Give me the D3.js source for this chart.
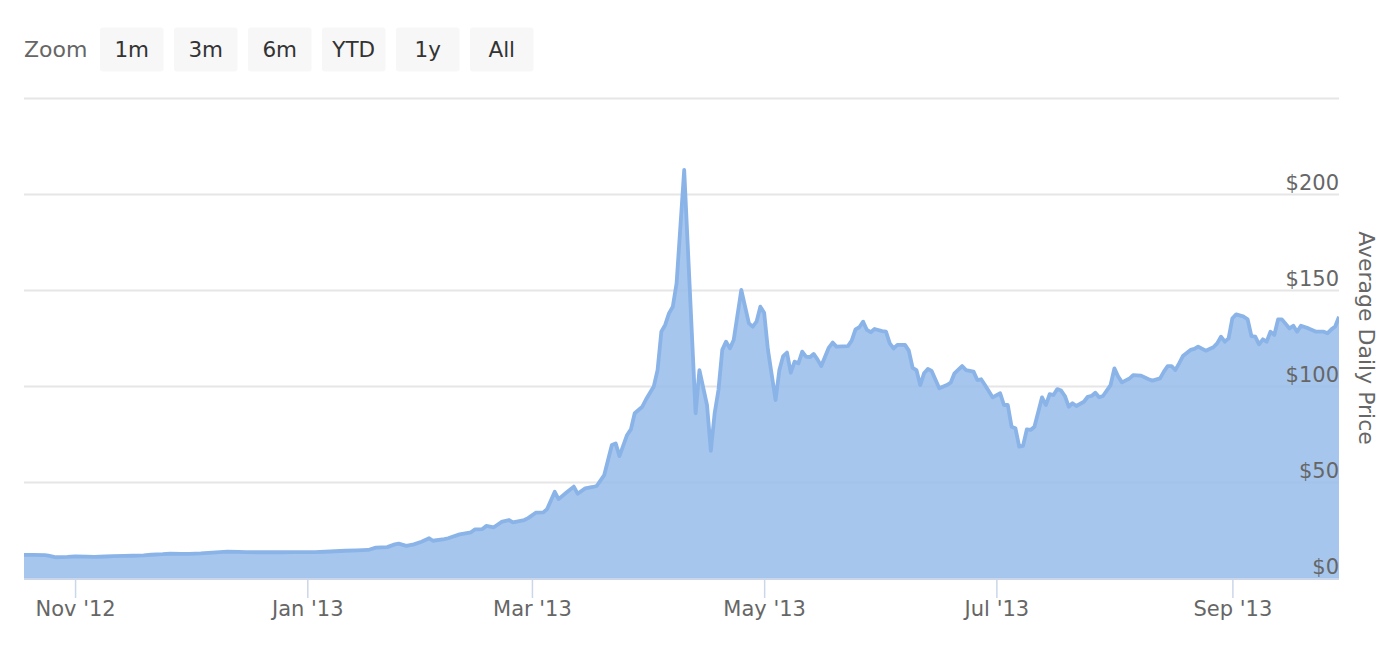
<!DOCTYPE html>
<html>
<head>
<meta charset="utf-8">
<script src="https://cdn.jsdelivr.net/npm/d3@7"></script>
<style>
  html, body { margin: 0; padding: 0; background: #fff; }
  svg { display: block; font-family: "DejaVu Sans", sans-serif; }
</style>
</head>
<body>
<svg id="chart" width="1394" height="646"></svg>
<script>
// ---- data ----
const dates = [
  "2012-10-18","2012-10-21","2012-10-24","2012-10-25","2012-10-27","2012-10-30","2012-11-01","2012-11-04","2012-11-06","2012-11-09",
  "2012-11-11","2012-11-14","2012-11-16","2012-11-19","2012-11-21","2012-11-24","2012-11-26","2012-11-29","2012-12-01","2012-12-04",
  "2012-12-08","2012-12-11","2012-12-14","2012-12-16","2012-12-19","2012-12-21","2012-12-25","2012-12-28","2012-12-31","2013-01-03",
  "2013-01-07","2013-01-11","2013-01-14","2013-01-17","2013-01-19","2013-01-22","2013-01-24","2013-01-25","2013-01-27","2013-01-29",
  "2013-01-31","2013-02-02","2013-02-03","2013-02-06","2013-02-07","2013-02-10","2013-02-13","2013-02-14","2013-02-16","2013-02-17",
  "2013-02-19","2013-02-21","2013-02-23","2013-02-24","2013-02-27","2013-02-28","2013-03-02","2013-03-04","2013-03-05","2013-03-07",
  "2013-03-08","2013-03-10","2013-03-12","2013-03-13","2013-03-15","2013-03-17","2013-03-18","2013-03-20","2013-03-22","2013-03-23",
  "2013-03-24","2013-03-26","2013-03-27","2013-03-28","2013-03-30","2013-03-31","2013-04-02","2013-04-03","2013-04-04","2013-04-05",
  "2013-04-06","2013-04-07","2013-04-08","2013-04-10","2013-04-13","2013-04-14","2013-04-16","2013-04-17","2013-04-18","2013-04-19",
  "2013-04-20","2013-04-21","2013-04-22","2013-04-23","2013-04-25","2013-04-26","2013-04-27","2013-04-28","2013-04-29","2013-04-30",
  "2013-05-01","2013-05-02","2013-05-04","2013-05-05","2013-05-06","2013-05-07","2013-05-08","2013-05-09","2013-05-10","2013-05-11",
  "2013-05-12","2013-05-13","2013-05-14","2013-05-15","2013-05-16","2013-05-18","2013-05-19","2013-05-20","2013-05-23","2013-05-24",
  "2013-05-25","2013-05-26","2013-05-27","2013-05-28","2013-05-29","2013-05-30","2013-06-01","2013-06-02","2013-06-03","2013-06-04",
  "2013-06-05","2013-06-07","2013-06-08","2013-06-09","2013-06-10","2013-06-11","2013-06-12","2013-06-13","2013-06-14","2013-06-16",
  "2013-06-18","2013-06-19","2013-06-20","2013-06-22","2013-06-23","2013-06-25","2013-06-26","2013-06-27","2013-06-28","2013-06-30",
  "2013-07-02","2013-07-03","2013-07-04","2013-07-05","2013-07-06","2013-07-07","2013-07-08","2013-07-09","2013-07-10","2013-07-11",
  "2013-07-13","2013-07-14","2013-07-15","2013-07-16","2013-07-17","2013-07-18","2013-07-19","2013-07-20","2013-07-21","2013-07-22",
  "2013-07-24","2013-07-25","2013-07-26","2013-07-27","2013-07-28","2013-07-29","2013-07-31","2013-08-01","2013-08-02","2013-08-03",
  "2013-08-05","2013-08-06","2013-08-08","2013-08-10","2013-08-11","2013-08-13","2013-08-14","2013-08-15","2013-08-16","2013-08-17",
  "2013-08-18","2013-08-19","2013-08-21","2013-08-22","2013-08-23","2013-08-25","2013-08-27","2013-08-28","2013-08-29","2013-08-30",
  "2013-08-31","2013-09-01","2013-09-02","2013-09-04","2013-09-05","2013-09-06","2013-09-07","2013-09-08","2013-09-09","2013-09-10",
  "2013-09-11","2013-09-12","2013-09-13","2013-09-14","2013-09-16","2013-09-17","2013-09-18","2013-09-19","2013-09-21","2013-09-23",
  "2013-09-25","2013-09-26","2013-09-27","2013-09-28","2013-09-29"
];
const prices = [
  12.0,12.0,11.9,11.6,10.8,11.0,11.3,11.1,11.0,11.2,
  11.4,11.5,11.6,11.8,12.1,12.4,12.7,12.6,12.6,12.8,
  13.3,13.7,13.6,13.5,13.4,13.4,13.4,13.5,13.5,13.5,
  13.8,14.2,14.4,14.6,15.8,16.1,17.5,17.9,16.7,17.5,
  18.9,20.7,19.4,20.3,20.7,22.7,23.8,25.3,25.5,27.1,
  26.4,29.2,30.2,29.0,30.2,31.2,34.0,34.2,35.9,44.9,
  41.1,44.4,47.6,43.9,46.7,47.4,47.9,53.6,69.3,70.1,
  63.5,74.5,77.4,85.8,89.2,93.1,99.7,108.3,128.3,131.8,
  137.8,141.3,153.5,212.5,85.8,108.3,90.0,66.2,85.8,97.9,
  118.8,123.1,119.6,124.0,150.0,141.3,132.6,130.9,133.5,141.3,
  138.2,118.8,92.7,108.3,115.6,117.4,106.9,112.7,111.8,117.9,
  115.3,115.0,116.7,113.9,110.4,120.0,122.6,120.5,120.8,123.6,
  129.5,130.6,133.5,129.2,128.0,129.7,128.6,128.3,122.2,119.6,
  121.4,121.4,118.4,109.5,108.3,100.5,106.6,108.9,107.8,98.8,
  100.5,101.7,106.6,110.4,108.3,107.5,103.1,103.5,100.5,94.1,
  96.2,90.1,90.1,78.8,78.0,68.4,68.8,77.4,77.1,78.8,
  94.1,90.1,95.8,95.3,98.4,97.6,94.8,89.2,91.0,89.6,
  91.8,94.4,94.8,96.5,94.1,94.8,100.5,109.2,104.9,101.9,
  104.0,105.7,105.4,103.5,102.8,104.0,107.5,110.4,110.4,108.3,
  111.8,115.6,118.8,119.3,120.5,118.4,120.2,122.2,125.7,123.1,
  124.8,135.3,137.3,136.1,134.7,126.0,125.7,121.7,124.3,123.1,
  128.3,126.6,134.7,134.7,130.0,131.4,128.3,131.4,130.0,128.3,
  128.3,127.5,129.5,131.0,136.1
];
const yTicks = [0, 50, 100, 150, 200, 250];
const zoomButtons = ["1m", "3m", "6m", "YTD", "1y", "All"];
const yTitle = "Average Daily Price";

// ---- setup ----
const svg = d3.select("#chart");
const L = 24, R = 1339, T = 98, B = 578;
const parse = d3.utcParse("%Y-%m-%d");
const data = dates.map((d, i) => ({ date: parse(d), value: prices[i] }));

const x = d3.scaleUtc()
  .domain([new Date(Date.UTC(2012, 9, 18, 14)), new Date(Date.UTC(2013, 8, 29))])
  .range([L, R]);
const y = d3.scaleLinear().domain([0, 250]).range([B, T]);

// zoom buttons
svg.append("text").attr("x", 24).attr("y", 57).attr("font-size", 22)
  .attr("fill", "#666").text("Zoom");
const btn = svg.append("g").selectAll("g").data(zoomButtons).join("g")
  .attr("transform", (d, i) => `translate(${100 + i * 74},27.5)`);
btn.append("rect").attr("width", 63.5).attr("height", 44).attr("rx", 3).attr("fill", "#f7f7f7");
btn.append("text").attr("x", 31.75).attr("y", 29.5).attr("text-anchor", "middle")
  .attr("font-size", 21.5).attr("fill", "#333").text(d => d);

// gridlines (below the area)
const grid = svg.append("g").attr("transform", `translate(${L},0)`)
  .call(d3.axisRight(y).tickValues(yTicks).tickSize(R - L).tickFormat(""));
grid.select(".domain").remove();
grid.selectAll(".tick line").attr("stroke", "#e6e6e6").attr("stroke-width", 2);

// clip
svg.append("clipPath").attr("id", "clip").append("rect")
  .attr("x", L).attr("y", 0).attr("width", R - L).attr("height", B + 2);

const area = d3.area().x(d => x(d.date)).y0(y(0)).y1(d => y(d.value)).curve(d3.curveLinear);
const line = d3.line().x(d => x(d.date)).y(d => y(d.value)).curve(d3.curveLinear);

const g = svg.append("g").attr("clip-path", "url(#clip)");
g.append("path").datum(data).attr("d", area).attr("fill", "rgb(150,188,234)").attr("fill-opacity", 0.85);
g.append("path").datum(data).attr("d", line).attr("fill", "none")
  .attr("stroke", "#8ab3e8").attr("stroke-width", 3.8).attr("stroke-linejoin", "round");

// y labels (above the area)
const yLab = svg.append("g").attr("transform", `translate(${L},0)`)
  .call(d3.axisRight(y).tickValues(yTicks.filter(v => v < 250)).tickSize(0)
    .tickFormat(d => "$" + d));
yLab.select(".domain").remove();
yLab.selectAll(".tick text")
  .attr("x", R - L).attr("dy", -5).attr("text-anchor", "end")
  .attr("font-size", 21).attr("font-family", "DejaVu Sans, sans-serif").attr("fill", "#666");

// x axis
const xAxis = svg.append("g").attr("transform", `translate(0,${B + 1})`)
  .call(d3.axisBottom(x).ticks(d3.utcMonth.every(2)).tickSize(19).tickPadding(3)
    .tickFormat(d3.utcFormat("%b '%y")));
xAxis.select(".domain").attr("stroke", "#ccd6eb").attr("stroke-width", 2)
  .attr("d", `M${L},0H${R}`);
xAxis.selectAll(".tick line").attr("stroke", "#ccd6eb").attr("stroke-width", 1.5);
xAxis.selectAll(".tick text").attr("font-size", 21)
  .attr("font-family", "DejaVu Sans, sans-serif").attr("fill", "#666")
  .attr("dy", null).attr("y", 37);

// y title
svg.append("text").attr("transform", "translate(1359,338) rotate(90)")
  .attr("text-anchor", "middle").attr("font-size", 22).attr("fill", "#666")
  .text(yTitle);
</script>
</body>
</html>
